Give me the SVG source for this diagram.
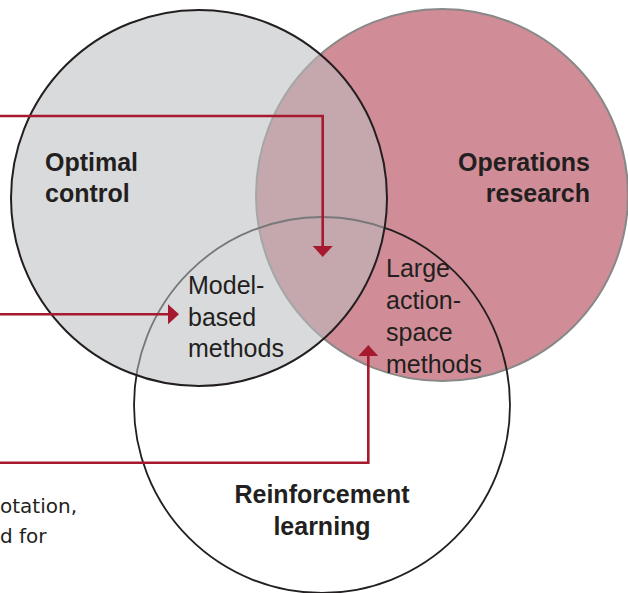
<svg xmlns="http://www.w3.org/2000/svg" width="628" height="593" viewBox="0 0 628 593">
<style>
.lbl{font-family:"Liberation Sans",Arial,sans-serif;font-size:25px;fill:#231f20}
.b{font-weight:bold}
.hand{font-family:"DejaVu Sans",sans-serif;font-size:20px;fill:#231f20}
.conn{fill:none;stroke:#a6192e;stroke-width:2.6}
</style>
<defs>
<marker id="ah" viewBox="0 0 11 20" refX="0" refY="10" markerWidth="11" markerHeight="20" markerUnits="userSpaceOnUse" orient="auto">
<path d="M0,0 L11,10 L0,20 Z" fill="#a6192e"/>
</marker>
</defs>
<rect width="628" height="593" fill="#ffffff"/>
<g id="operations-research">
<circle cx="442" cy="195" r="186" fill="#d18d97" stroke="#888888" stroke-width="2"/>
<text class="lbl b" text-anchor="end"><tspan x="590" y="171">Operations</tspan><tspan x="590" y="202">research</tspan></text>
</g>
<g id="reinforcement-learning">
<circle cx="322" cy="405" r="188" fill="none" stroke="#231f20" stroke-width="1.8"/>
<text class="lbl b" text-anchor="middle"><tspan x="322" y="503">Reinforcement</tspan><tspan x="322" y="535">learning</tspan></text>
</g>
<g id="optimal-control">
<circle cx="199" cy="198" r="188" fill="#bbbdc0" fill-opacity="0.56" stroke="#231f20" stroke-width="2"/>
<text class="lbl b"><tspan x="45" y="171">Optimal</tspan><tspan x="45" y="202">control</tspan></text>
</g>
<g id="model-based-methods">
<text class="lbl"><tspan x="188" y="294">Model-</tspan><tspan x="188" y="326">based</tspan><tspan x="188" y="357">methods</tspan></text>
</g>
<g id="large-action-space-methods">
<text class="lbl"><tspan x="386" y="277">Large</tspan><tspan x="386" y="309">action-</tspan><tspan x="386" y="341">space</tspan><tspan x="386" y="373">methods</tspan></text>
</g>
<g id="annotation">
<text class="hand"><tspan x="0" y="513">otation,</tspan><tspan x="0" y="543">d for</tspan></text>
</g>
<g id="connectors">
<path class="conn" d="M0,116 H322.7 V246" marker-end="url(#ah)"/>
<path class="conn" d="M0,314.3 H168" marker-end="url(#ah)"/>
<path class="conn" d="M0,462.7 H368.3 V356" marker-end="url(#ah)"/>
</g>
</svg>
